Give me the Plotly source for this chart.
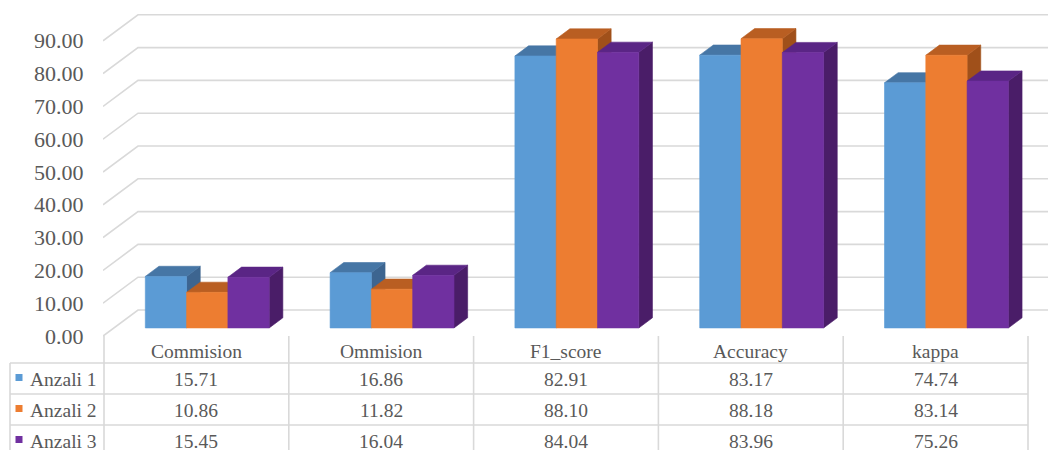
import plotly.graph_objects as go

# ---- data -------------------------------------------------------------
categories = ["Commision", "Ommision", "F1_score", "Accuracy", "kappa"]
series_names = ["Anzali 1", "Anzali 2", "Anzali 3"]
anzali1 = [15.71, 16.86, 82.91, 83.17, 74.74]
anzali2 = [10.86, 11.82, 88.10, 88.18, 83.14]
anzali3 = [15.45, 16.04, 84.04, 83.96, 75.26]
tick_values = [0, 10, 20, 30, 40, 50, 60, 70, 80, 90]

series_values = [anzali1, anzali2, anzali3]

# face colours: (front, top, side)
face_colors = [
    ("#5B9BD5", "#4676A5", "#3D6590"),
    ("#ED7D31", "#B95E22", "#A0501A"),
    ("#7030A0", "#5A2585", "#4A1D68"),
]
GRID = "#D9D9D9"
TEXT = "#595959"
FONT = "Liberation Serif"

# ---- geometry ---------------------------------------------------------
W, H = 1048, 450
LEFT = 103             # plot area left edge (px)
COL0 = 104             # first table column left edge (px)
COLW = 184.8           # category width (px)
Y0 = 336               # front floor line (px)
KY = 3.28              # px per value unit
DEPTH_PX = (35, 26)    # oblique offset from front of floor to back wall (px)

DX = DEPTH_PX[0] / COLW
DY = DEPTH_PX[1] / KY
BAR_W = 41.3 / COLW    # single bar width in category units
D_FRONT = 0.31         # depth of bar front faces
D_BACK = 0.70          # depth of bar back faces

x_min = (LEFT - COL0) / COLW
x_max = (W - COL0) / COLW
y_min = (Y0 - H) / KY
y_max = Y0 / KY


def proj(x, v, d):
    return x + d * DX, v + d * DY


def poly(points):
    xs = [p[0] for p in points] + [points[0][0]]
    ys = [p[1] for p in points] + [points[0][1]]
    return xs, ys


fig = go.Figure()

# back-wall gridlines with the diagonal to the front edge
for v in tick_values:
    bx, by = proj(x_min, v, 1.0)
    fig.add_trace(go.Scatter(
        x=[x_min, bx, x_max], y=[v, by, by], mode="lines",
        line=dict(color=GRID, width=1.6), hoverinfo="skip", showlegend=False))

# 3-D columns, drawn left to right so each covers its neighbour's side
for i, cat in enumerate(categories):
    group_left = i + 0.5 - 1.5 * BAR_W
    for j, vals in enumerate(series_values):
        v = vals[i]
        xl = group_left + j * BAR_W
        xr = xl + BAR_W
        front_c, top_c, side_c = face_colors[j]
        side = [proj(xr, 0, D_FRONT), proj(xr, 0, D_BACK),
                proj(xr, v, D_BACK), proj(xr, v, D_FRONT)]
        top = [proj(xl, v, D_FRONT), proj(xr, v, D_FRONT),
               proj(xr, v, D_BACK), proj(xl, v, D_BACK)]
        front = [proj(xl, 0, D_FRONT), proj(xr, 0, D_FRONT),
                 proj(xr, v, D_FRONT), proj(xl, v, D_FRONT)]
        for pts, col in ((side, side_c), (top, top_c), (front, front_c)):
            xs, ys = poly(pts)
            fig.add_trace(go.Scatter(
                x=xs, y=ys, mode="lines", fill="toself", fillcolor=col,
                line=dict(color=col, width=0.6), hoverinfo="skip",
                showlegend=False))

# ---- value-axis labels ------------------------------------------------
def px_x(px):
    return (px - LEFT) / (W - LEFT)


def px_y(py):
    return 1 - py / H


annotations = []
for v in tick_values:
    annotations.append(dict(
        x=px_x(86), y=v, xref="paper", yref="y", text=f"{v:.2f}",
        showarrow=False, xanchor="right", yanchor="middle",
        font=dict(family=FONT, size=22, color=TEXT)))

# ---- data table below the plot ----------------------------------------
HEADER_BOTTOM = 363
ROW_H = 31
TABLE_LEFT = 10
TABLE_RIGHT = COL0 + COLW * len(categories)
row_tops = [HEADER_BOTTOM + ROW_H * r for r in range(len(series_names))]

shapes = []
line_style = dict(color=GRID, width=1.6)
# column separators
for c in range(len(categories) + 1):
    xpx = COL0 + COLW * c
    shapes.append(dict(type="line", xref="paper", yref="paper",
                       x0=px_x(xpx), x1=px_x(xpx), y0=px_y(Y0), y1=px_y(H + 20),
                       line=line_style))
# legend column left border
shapes.append(dict(type="line", xref="paper", yref="paper",
                   x0=px_x(TABLE_LEFT), x1=px_x(TABLE_LEFT),
                   y0=px_y(HEADER_BOTTOM), y1=px_y(H + 20), line=line_style))
# row lines
for r in range(len(series_names) + 1):
    ypx = HEADER_BOTTOM + ROW_H * r
    shapes.append(dict(type="line", xref="paper", yref="paper",
                       x0=px_x(TABLE_LEFT), x1=px_x(TABLE_RIGHT),
                       y0=px_y(ypx), y1=px_y(ypx), line=line_style))

# category headers
for i, cat in enumerate(categories):
    annotations.append(dict(
        x=px_x(COL0 + COLW * (i + 0.5)), y=px_y(351), xref="paper", yref="paper",
        text=cat, showarrow=False, xanchor="center", yanchor="middle",
        font=dict(family=FONT, size=19.5, color=TEXT)))

# series rows: legend key, name and values
for j, name in enumerate(series_names):
    yc = row_tops[j] + ROW_H / 2
    shapes.append(dict(type="rect", xref="paper", yref="paper",
                       x0=px_x(15.5), x1=px_x(22.5),
                       y0=px_y(yc + 2.5), y1=px_y(yc - 4.5),
                       fillcolor=face_colors[j][0], line=dict(width=0)))
    annotations.append(dict(
        x=px_x(28), y=px_y(yc + 0.5), xref="paper", yref="paper", text=name,
        showarrow=False, xanchor="left", yanchor="middle",
        font=dict(family=FONT, size=19.5, color=TEXT)))
    for i, v in enumerate(series_values[j]):
        annotations.append(dict(
            x=px_x(COL0 + COLW * (i + 0.5)), y=px_y(yc + 0.5),
            xref="paper", yref="paper", text=f"{v:.2f}",
            showarrow=False, xanchor="center", yanchor="middle",
            font=dict(family=FONT, size=19.5, color=TEXT)))

fig.update_layout(
    width=W, height=H,
    margin=dict(l=LEFT, r=0, t=0, b=0),
    paper_bgcolor="white", plot_bgcolor="white",
    showlegend=False,
    font=dict(family=FONT, color=TEXT),
    shapes=shapes, annotations=annotations,
    xaxis=dict(range=[x_min, x_max], visible=False, fixedrange=True),
    yaxis=dict(range=[y_min, y_max], showticklabels=False,
               showgrid=False, zeroline=False, showline=False,
               ticks="", fixedrange=True),
)

fig.write_html("out.html")
